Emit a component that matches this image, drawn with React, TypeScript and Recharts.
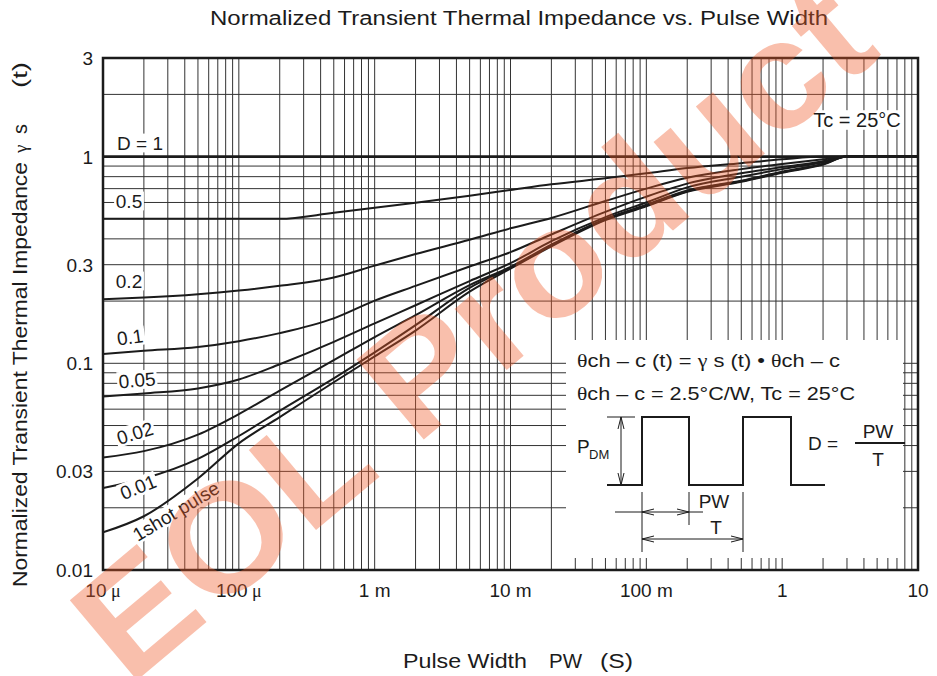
import React from 'react';
import { LineChart, Line, XAxis, YAxis, CartesianGrid } from 'recharts';

// ---------------- data ----------------
const pulseWidth = [1e-5, 2e-5, 5e-5, 1e-4, 2e-4, 5e-4, 1e-3, 2e-3, 5e-3, 1e-2, 2e-2, 5e-2, 0.1, 0.2, 0.5, 1, 2, 3, 10];
const dutyOne = [1, 1, 1, 1, 1, 1, 1, 1, 1, 1, 1, 1, 1, 1, 1, 1, 1, 1, 1];
const dutyHalf = [0.5, 0.5, 0.5, 0.5, 0.5, 0.535, 0.565, 0.598, 0.647, 0.69, 0.735, 0.785, 0.83, 0.88, 0.93, 0.97, 1.0, 1.0, 1.0];
const dutyFifth = [0.204, 0.208, 0.216, 0.225, 0.237, 0.26, 0.297, 0.338, 0.396, 0.45, 0.505, 0.61, 0.7, 0.79, 0.87, 0.92, 0.97, 1.0, 1.0];
const dutyTenth = [0.111, 0.115, 0.12, 0.128, 0.14, 0.165, 0.201, 0.237, 0.294, 0.345, 0.42, 0.54, 0.64, 0.74, 0.83, 0.89, 0.95, 1.0, 1.0];
const dutyTwentieth = [0.069, 0.0715, 0.0756, 0.0835, 0.099, 0.127, 0.156, 0.191, 0.25, 0.305, 0.39, 0.51, 0.6, 0.71, 0.8, 0.87, 0.94, 1.0, 1.0];
const dutyFiftieth = [0.035, 0.0376, 0.0452, 0.0568, 0.0738, 0.1035, 0.134, 0.171, 0.239, 0.293, 0.375, 0.5, 0.585, 0.685, 0.765, 0.845, 0.925, 1.0, 1.0];
const dutyHundredth = [0.0249, 0.0277, 0.0345, 0.0445, 0.0589, 0.0846, 0.113, 0.153, 0.232, 0.29, 0.372, 0.497, 0.58, 0.68, 0.76, 0.84, 0.92, 1.0, 1.0];
const singlePulse = [0.0152, 0.0182, 0.0277, 0.041, 0.0549, 0.081, 0.108, 0.144, 0.222, 0.287, 0.368, 0.493, 0.575, 0.675, 0.755, 0.835, 0.915, 1.0, 1.0];

const xDecades = [1e-5, 1e-4, 1e-3, 1e-2, 1e-1, 1];
const gridMultipliers = [1, 2, 3, 4, 5, 6, 7, 8, 9];
const xMajorTicks = [1e-5, 1e-4, 1e-3, 1e-2, 1e-1, 1, 10];
const xMajorNumbers = ['10', '100', '1', '10', '100', '1', '10'];
const xMajorUnits = ['μ', 'μ', 'm', 'm', 'm', '', ''];
const yTicks = [0.01, 0.02, 0.03, 0.04, 0.05, 0.06, 0.07, 0.08, 0.09, 0.1, 0.2, 0.3, 0.4, 0.5, 0.6, 0.7, 0.8, 0.9, 1, 2, 3];
const yMajorTicks = [0.01, 0.03, 0.1, 0.3, 1, 3];
const yMajorLabels = ['0.01', '0.03', '0.1', '0.3', '1', '3'];

const xTicks: number[] = [];
xDecades.forEach((d) => gridMultipliers.forEach((m) => xTicks.push(Number((m * d).toPrecision(6)))));
xTicks.push(10);

const rows = pulseWidth.map((pw, i) => ({
  pw,
  d1: dutyOne[i],
  d05: dutyHalf[i],
  d02: dutyFifth[i],
  d01: dutyTenth[i],
  d005: dutyTwentieth[i],
  d002: dutyFiftieth[i],
  d001: dutyHundredth[i],
  single: singlePulse[i],
}));

// ---------------- layout ----------------
const W = 937;
const H = 676;
const PLOT = { left: 103, top: 58, right: 918, bottom: 570 };
const Y_AXIS_W = 60;
const X_AXIS_H = 30;
const FONT = "'Liberation Sans', Arial, Helvetica, sans-serif";
const SERIF = "'Liberation Serif', 'DejaVu Serif', serif";
const INK = '#1b1b1b';

const same = (a: number, b: number) => Math.abs(Math.log10(a) - Math.log10(b)) < 1e-6;

const XTick = (props: any) => {
  const { x, payload } = props;
  const idx = xMajorTicks.findIndex((v) => same(v, payload.value));
  if (idx < 0) return null;
  return (
    <text x={x} y={PLOT.bottom + 27} textAnchor="middle" fontSize={19} fontFamily={FONT} fill={INK}>
      {xMajorNumbers[idx]}
      {xMajorUnits[idx] ? (
        <tspan fontFamily={xMajorUnits[idx] === 'μ' ? SERIF : FONT} fontSize={xMajorUnits[idx] === 'μ' ? 18 : 19}>
          {'\u00a0' + xMajorUnits[idx]}
        </tspan>
      ) : null}
    </text>
  );
};

const YTick = (props: any) => {
  const { y, payload } = props;
  const idx = yMajorTicks.findIndex((v) => same(v, payload.value));
  if (idx < 0) return null;
  return (
    <text x={PLOT.left - 10} y={y + 7} textAnchor="end" fontSize={19} fontFamily={FONT} fill={INK}>
      {yMajorLabels[idx]}
    </text>
  );
};

const charW: Record<string, number> = { '.': 0.278, ' ': 0.278, D: 0.722, '=': 0.584, T: 0.611, C: 0.722, '°': 0.4, l: 0.222, t: 0.278 };
const textWidth = (s: string, fs: number) => s.split('').reduce((a, c) => a + (charW[c] ?? 0.54), 0) * fs;

const BoxLabel = ({ cx, cy, text, rotate = 0, fs = 19 }: { cx: number; cy: number; text: string; rotate?: number; fs?: number }) => {
  const w = textWidth(text, fs);
  const h = fs * 0.78;
  return (
    <g transform={`translate(${cx},${cy}) rotate(${rotate})`}>
      <rect x={-w / 2 - 2} y={-h / 2 - 2} width={w + 4} height={h + 4} fill="#fff" />
      <text x={0} y={fs * 0.36} textAnchor="middle" fontSize={fs} fontFamily={FONT} fill={INK}>
        {text}
      </text>
    </g>
  );
};

const curveLabels = [
  { cx: 140, cy: 143, text: 'D = 1', rotate: 0 },
  { cx: 129, cy: 201, text: '0.5', rotate: 0 },
  { cx: 129, cy: 281, text: '0.2', rotate: 0 },
  { cx: 130, cy: 337, text: '0.1', rotate: -8 },
  { cx: 137, cy: 380, text: '0.05', rotate: -5 },
  { cx: 135, cy: 433, text: '0.02', rotate: -17 },
  { cx: 138, cy: 487, text: '0.01', rotate: -22 },
  { cx: 176, cy: 511, text: '1shot pulse', rotate: -31 },
];

const Arrow = ({ x, y, dir }: { x: number; y: number; dir: 'l' | 'r' | 'u' | 'd' }) => {
  const L = 12;
  const s = 3;
  let pts = '';
  if (dir === 'l') pts = `${x + L},${y - s} ${x},${y} ${x + L},${y + s}`;
  if (dir === 'r') pts = `${x - L},${y - s} ${x},${y} ${x - L},${y + s}`;
  if (dir === 'u') pts = `${x - s},${y + L} ${x},${y} ${x + s},${y + L}`;
  if (dir === 'd') pts = `${x - s},${y - L} ${x},${y} ${x + s},${y - L}`;
  return <polyline points={pts} fill="none" stroke={INK} strokeWidth={1} />;
};

const Overlay = () => (
  <svg width={W} height={H} style={{ position: 'absolute', left: 0, top: 0, pointerEvents: 'none' }}>
    {/* title */}
    <text x={519} y={25} textAnchor="middle" fontSize={20} fontFamily={FONT} fill={INK} textLength={618} lengthAdjust="spacingAndGlyphs">
      Normalized Transient Thermal Impedance vs. Pulse Width
    </text>
    {/* y axis title */}
    <g transform="translate(27,0) rotate(-90)">
      <text x={-587} y={0} fontSize={20} fontFamily={FONT} fill={INK} textLength={425} lengthAdjust="spacingAndGlyphs">
        Normalized Transient Thermal Impedance
      </text>
      <text x={-153} y={0} fontSize={19} fontFamily={SERIF} fill={INK}>γ</text>
      <text x={-134} y={0} fontSize={20} fontFamily={FONT} fill={INK}>s</text>
      <text x={-88} y={0} fontSize={20} fontFamily={FONT} fill={INK} textLength={26} lengthAdjust="spacingAndGlyphs">(t)</text>
    </g>
    {/* x axis title */}
    <text x={403} y={668} fontSize={20} fontFamily={FONT} fill={INK} textLength={124} lengthAdjust="spacingAndGlyphs">Pulse Width</text>
    <text x={549} y={668} fontSize={20} fontFamily={FONT} fill={INK} textLength={33} lengthAdjust="spacingAndGlyphs">PW</text>
    <text x={600} y={668} fontSize={20} fontFamily={FONT} fill={INK} textLength={33} lengthAdjust="spacingAndGlyphs">(S)</text>

    {/* frame */}
    <rect x={PLOT.left} y={PLOT.top} width={PLOT.right - PLOT.left} height={PLOT.bottom - PLOT.top} fill="none" stroke={INK} strokeWidth={2.5} />

    {/* curve labels */}
    {curveLabels.map((l) => (
      <BoxLabel key={l.text} cx={l.cx} cy={l.cy} text={l.text} rotate={l.rotate} />
    ))}
    <BoxLabel cx={857} cy={120} text="Tc = 25°C" fs={20} />

    {/* inset */}
    <rect x={566} y={340} width={337} height={218} fill="#fff" />
    <text x={577} y={367} fontSize={19} fontFamily={FONT} fill={INK} textLength={263} lengthAdjust="spacingAndGlyphs">
      <tspan fontFamily={SERIF}>θ</tspan>ch – c (t) = <tspan fontFamily={SERIF}>γ</tspan> s (t) •  <tspan fontFamily={SERIF}>θ</tspan>ch – c
    </text>
    <text x={577} y={400} fontSize={19} fontFamily={FONT} fill={INK} textLength={278} lengthAdjust="spacingAndGlyphs">
      <tspan fontFamily={SERIF}>θ</tspan>ch – c = 2.5°C/W, Tc = 25°C
    </text>
    <text x={577} y={453} fontSize={19} fontFamily={FONT} fill={INK}>P</text>
    <text x={589} y={459} fontSize={13} fontFamily={FONT} fill={INK}>DM</text>
    <polyline
      points="607,485 642,485 642,417 689,417 689,485 743,485 743,417 791,417 791,485 825,485"
      fill="none"
      stroke={INK}
      strokeWidth={2}
    />
    <line x1={607} y1={417} x2={635} y2={417} stroke={INK} strokeWidth={1} />
    <line x1={621} y1={417} x2={621} y2={485} stroke={INK} strokeWidth={1} />
    <Arrow x={621} y={417} dir="u" />
    <Arrow x={621} y={485} dir="d" />
    <line x1={642} y1={492} x2={642} y2={552} stroke={INK} strokeWidth={1} />
    <line x1={689} y1={492} x2={689} y2={525} stroke={INK} strokeWidth={1} />
    <line x1={743} y1={492} x2={743} y2={552} stroke={INK} strokeWidth={1} />
    <line x1={615} y1={512} x2={703} y2={512} stroke={INK} strokeWidth={1} />
    <Arrow x={642} y={512} dir="l" />
    <Arrow x={689} y={512} dir="r" />
    <line x1={642} y1={539} x2={743} y2={539} stroke={INK} strokeWidth={1} />
    <Arrow x={642} y={539} dir="l" />
    <Arrow x={743} y={539} dir="r" />
    <text x={714} y={508} textAnchor="middle" fontSize={19} fontFamily={FONT} fill={INK}>PW</text>
    <text x={716} y={534} textAnchor="middle" fontSize={19} fontFamily={FONT} fill={INK}>T</text>
    <text x={808} y={450} fontSize={19} fontFamily={FONT} fill={INK}>D =</text>
    <text x={878} y={438} textAnchor="middle" fontSize={19} fontFamily={FONT} fill={INK}>PW</text>
    <line x1={855} y1={443} x2={905} y2={443} stroke={INK} strokeWidth={2} />
    <text x={878} y={466} textAnchor="middle" fontSize={19} fontFamily={FONT} fill={INK}>T</text>

    {/* watermark */}
    <text
      x={0}
      y={0}
      transform="translate(472,330) rotate(-40)"
      textAnchor="middle"
      dominantBaseline="central"
      fontSize={152}
      fontWeight="bold"
      fontFamily={FONT}
      fill="#f05a28"
      opacity={0.38}
      textLength={985}
      lengthAdjust="spacingAndGlyphs"
    >
      EOL Product
    </text>
  </svg>
);

export default function App() {
  return (
    <div style={{ position: 'absolute', left: 0, top: 0, width: W, height: H, background: '#fff' }}>
      <LineChart
        width={W}
        height={H}
        data={rows}
        margin={{ top: PLOT.top, right: W - PLOT.right, bottom: H - PLOT.bottom - X_AXIS_H, left: PLOT.left - Y_AXIS_W }}
      >
        <CartesianGrid stroke="#333" strokeWidth={1} />
        <XAxis
          dataKey="pw"
          type="number"
          scale="log"
          domain={[1e-5, 10]}
          allowDataOverflow
          ticks={xTicks}
          interval={0}
          tick={<XTick />}
          tickLine={false}
          axisLine={false}
          height={X_AXIS_H}
        />
        <YAxis
          type="number"
          scale="log"
          domain={[0.01, 3]}
          allowDataOverflow
          ticks={yTicks}
          interval={0}
          tick={<YTick />}
          tickLine={false}
          axisLine={false}
          width={Y_AXIS_W}
        />
        <Line dataKey="single" type="monotone" stroke={INK} strokeWidth={2} dot={false} isAnimationActive={false} />
        <Line dataKey="d001" type="monotone" stroke={INK} strokeWidth={2} dot={false} isAnimationActive={false} />
        <Line dataKey="d002" type="monotone" stroke={INK} strokeWidth={2} dot={false} isAnimationActive={false} />
        <Line dataKey="d005" type="monotone" stroke={INK} strokeWidth={2} dot={false} isAnimationActive={false} />
        <Line dataKey="d01" type="monotone" stroke={INK} strokeWidth={2} dot={false} isAnimationActive={false} />
        <Line dataKey="d02" type="monotone" stroke={INK} strokeWidth={2} dot={false} isAnimationActive={false} />
        <Line dataKey="d05" type="monotone" stroke={INK} strokeWidth={2} dot={false} isAnimationActive={false} />
        <Line dataKey="d1" type="monotone" stroke={INK} strokeWidth={2.6} dot={false} isAnimationActive={false} />
      </LineChart>
      <Overlay />
    </div>
  );
}
